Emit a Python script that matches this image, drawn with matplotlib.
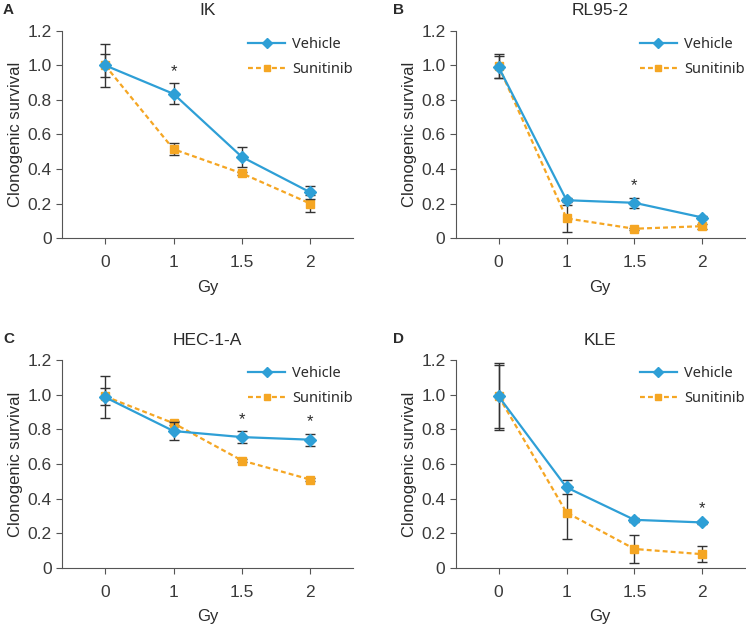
import numpy as np
import matplotlib.pyplot as plt
from matplotlib.lines import Line2D

plt.rcParams['font.family'] = ['Liberation Sans', 'DejaVu Sans']

doses = ['0', '1', '1.5', '2']

ik_vehicle = [1.0, 0.835, 0.47, 0.265]
ik_vehicle_err = [0.125, 0.06, 0.06, 0.04]
ik_suni = [1.0, 0.515, 0.375, 0.20]
ik_suni_err = [0.065, 0.035, 0.01, 0.05]
ik_stars = [1]

rl_vehicle = [0.99, 0.22, 0.205, 0.12]
rl_vehicle_err = [0.065, 0.01, 0.03, 0.01]
rl_suni = [0.995, 0.115, 0.055, 0.07]
rl_suni_err = [0.07, 0.08, 0.005, 0.015]
rl_stars = [2]

hec_vehicle = [0.985, 0.79, 0.755, 0.74]
hec_vehicle_err = [0.12, 0.05, 0.035, 0.035]
hec_suni = [0.99, 0.835, 0.62, 0.51]
hec_suni_err = [0.05, 0.01, 0.01, 0.01]
hec_stars = [2, 3]

kle_vehicle = [0.99, 0.465, 0.278, 0.263]
kle_vehicle_err = [0.195, 0.04, 0.01, 0.01]
kle_suni = [0.99, 0.32, 0.11, 0.08]
kle_suni_err = [0.18, 0.15, 0.08, 0.045]
kle_stars = [3]

panels = [
    ('A', 'IK', ik_vehicle, ik_vehicle_err, ik_suni, ik_suni_err, ik_stars),
    ('B', 'RL95-2', rl_vehicle, rl_vehicle_err, rl_suni, rl_suni_err, rl_stars),
    ('C', 'HEC-1-A', hec_vehicle, hec_vehicle_err, hec_suni, hec_suni_err, hec_stars),
    ('D', 'KLE', kle_vehicle, kle_vehicle_err, kle_suni, kle_suni_err, kle_stars),
]

# axes rectangles in figure fractions (left, bottom, width, height)
rects = [
    (0.083, 0.620, 0.390, 0.331),
    (0.611, 0.620, 0.387, 0.331),
    (0.083, 0.094, 0.390, 0.332),
    (0.611, 0.094, 0.387, 0.332),
]
# panel letter positions (figure fractions)
letter_pos = [(0.004, 0.984), (0.527, 0.984), (0.004, 0.460), (0.527, 0.460)]

blue = '#2e9fd6'
orange = '#f5a623'
text_col = '#2b2b2b'
spine_col = '#555555'
dash = (0, (2.2, 1.4))

fig = plt.figure(figsize=(7.46, 6.27), dpi=100)
x = np.arange(len(doses))

for (letter, title, veh, veh_err, sun, sun_err, stars), rect, lp in zip(panels, rects, letter_pos):
    ax = fig.add_axes(rect)
    ax.errorbar(x, veh, yerr=veh_err, color=blue, lw=1.6, marker='D', ms=6,
                ecolor='#333333', elinewidth=1, capsize=3.5, capthick=1, zorder=3)
    ax.errorbar(x, sun, yerr=sun_err, color=orange, lw=1.6, ls=dash, marker='s', ms=6,
                ecolor='#333333', elinewidth=1, capsize=3.5, capthick=1, zorder=2)
    for i in stars:
        top = max(veh[i] + veh_err[i], sun[i] + sun_err[i])
        ax.text(x[i], top + 0.025, '*', ha='center', va='bottom', fontsize=12, color=text_col)

    ax.set_xlim(-0.63, 3.62)
    ax.set_ylim(0, 1.2)
    ax.set_xticks(x)
    ax.set_xticklabels(doses)
    ax.set_yticks([0, 0.2, 0.4, 0.6, 0.8, 1.0, 1.2])
    ax.set_yticklabels(['0', '0.2', '0.4', '0.6', '0.8', '1.0', '1.2'])
    ax.spines['top'].set_visible(False)
    ax.spines['right'].set_visible(False)
    for s in ('left', 'bottom'):
        ax.spines[s].set_color(spine_col)
    ax.tick_params(colors=spine_col, labelcolor='#3a3a3a', labelsize=12.5, length=4)
    ax.tick_params(axis='x', pad=8)
    ax.set_xlabel('Gy', fontsize=12, color=text_col, labelpad=7)
    ax.set_ylabel('Clonogenic survival', fontsize=12, color=text_col, labelpad=3)
    ax.set_title(title, fontsize=12.5, color=text_col, pad=11)
    fig.text(lp[0], lp[1], letter, fontsize=11, fontweight='bold', color=text_col,
             ha='left', va='center')
    handles = [
        Line2D([], [], color=blue, lw=1.6, marker='D', ms=5),
        Line2D([], [], color=orange, lw=1.6, ls=dash, marker='s', ms=5),
    ]
    leg = ax.legend(handles, ['Vehicle', 'Sunitinib'], loc='upper right', frameon=False,
                    prop={'family': 'Noto Sans', 'size': 10.5},
                    handlelength=2.5, handletextpad=0.5, borderpad=0.0,
                    borderaxespad=0.0, labelspacing=0.7, bbox_to_anchor=(1.0, 0.97))
    for t in leg.get_texts():
        t.set_color(text_col)

fig.savefig('out.png', dpi=100)
